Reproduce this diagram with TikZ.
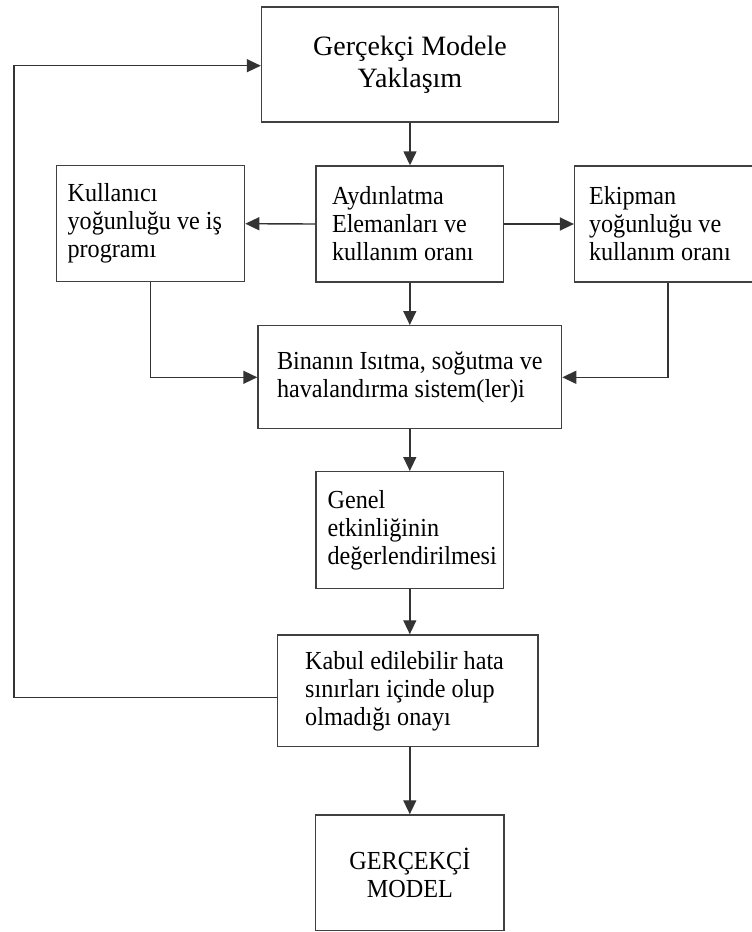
\documentclass[tikz,border=0pt]{standalone}
\usepackage{fontspec}
\setmainfont{Liberation Serif}
\newfontfamily\condfont{Liberation Serif}[FakeStretch=0.93]
\usetikzlibrary{arrows.meta}
\tikzset{
  box/.style={draw=black!75, line width=1.4pt, rectangle, inner xsep=0pt, inner ysep=0pt,
    font=\condfont\fontsize{26}{28}\selectfont, align=flush left},
  arr/.style={draw=black!80, line width=1.4pt, -{Triangle[length=14pt,width=13pt]}},
}
\begin{document}
\begin{tikzpicture}[x=1pt,y=-1pt]
\useasboundingbox (0,0) rectangle (752,932);
\node[box, align=center, font=\fontsize{28}{32}\selectfont, minimum width=297, minimum height=115] (b1) at (410,64.5) {Gerçekçi Modele\\Yaklaşım};
\node[box, minimum width=188, minimum height=116, text width=166] (b2) at (150.6,223.7) {Kullanıcı\\yoğunluğu~ve~iş\\programı};
\node[box, minimum width=187.6, minimum height=116, text width=155.6] (b3) at (409.8,224) {Aydınlatma\\Elemanları~ve\\kullanım~oranı};
\node[box, minimum width=186.4, minimum height=116, text width=157.6] (b4) at (667.8,224) {Ekipman\\yoğunluğu~ve\\kullanım~oranı};
\node[box, minimum width=303.6, minimum height=103, text width=265.6] (b5) at (409.8,377.2) {Binanın~Isıtma,~soğutma~ve\\havalandırma~sistem(ler)i};
\node[box, minimum width=187.6, minimum height=117, text width=164.4] (b6) at (409.8,530.2) {Genel\\etkinliğinin\\değerlendirilmesi};
\node[box, minimum width=260.8, minimum height=111.7, text width=204.8] (b7) at (407.6,690.8) {Kabul~edilebilir~hata\\sınırları~içinde~olup\\olmadığı~onayı};
\node[box, align=center, minimum width=188.3, minimum height=115.5] (b8) at (409.9,872.7) {GERÇEKÇİ\\MODEL};
\coordinate (lb) at (14,697.7);
\coordinate (lt) at (14,65.7);
\coordinate (mid) at (0,377.3);
\draw[arr] (b1.south) -- (b1.south |- b3.north);
\draw[arr] (b3.west) -- (b2.east);
\draw[arr] (b3.east) -- (b4.west);
\draw[arr] (b3.south) -- (b3.south |- b5.north);
\draw[arr] (b2.south) -- (b2.south |- mid) -- (b5.west |- mid);
\draw[arr] (b4.south) -- (b4.south |- mid) -- (b5.east |- mid);
\draw[arr] (b5.south) -- (b5.south |- b6.north);
\draw[arr] (b6.south) -- (b6.south |- b7.north);
\draw[arr] (b6.south |- b7.south) -- (b6.south |- b8.north);
\draw[arr] (b7.west |- lb) -- (lb) -- (lt) -- (b1.west |- lt);
\end{tikzpicture}
\end{document}
